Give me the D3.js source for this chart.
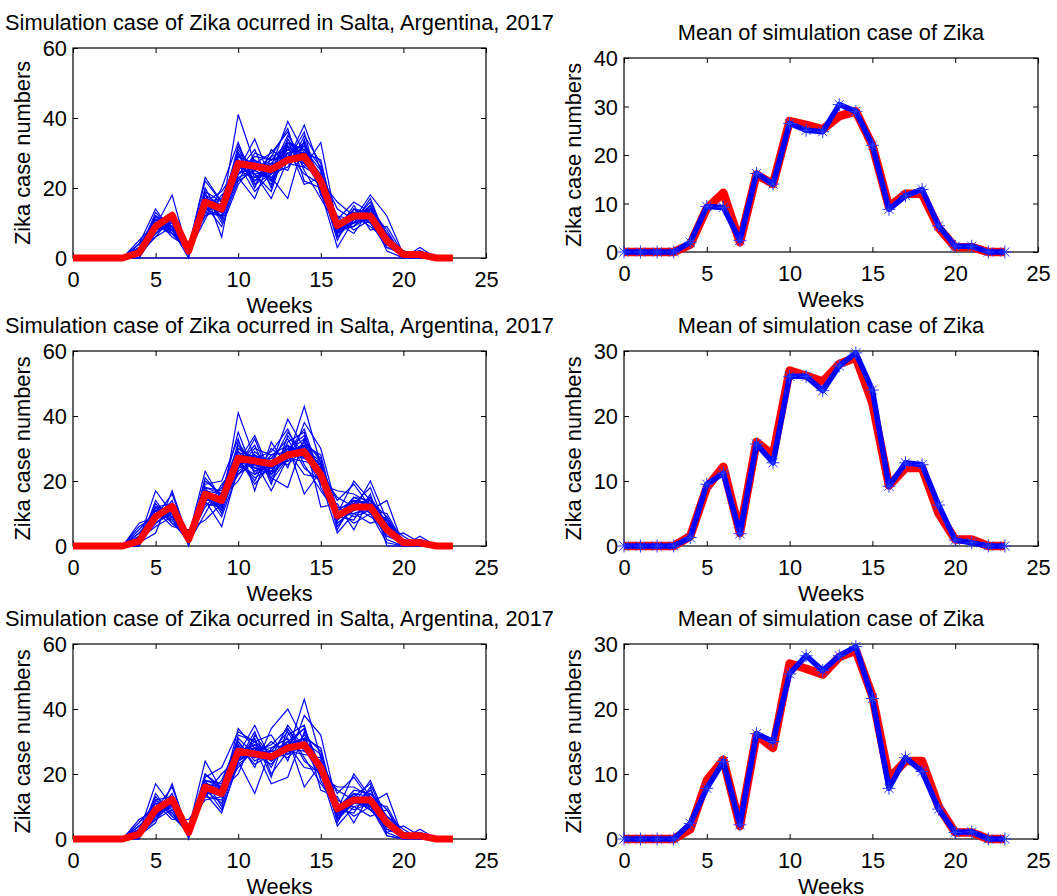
<!DOCTYPE html>
<html><head><meta charset="utf-8">
<script src="https://cdn.jsdelivr.net/npm/d3@7"></script>
<style>
body{margin:0;background:#fff}
svg{display:block}
text{font-family:"Liberation Sans",Arial,Helvetica,sans-serif;fill:#000}
</style>
</head><body>
<svg id="chart" width="1057" height="896"></svg>
<script>
// ---------------- DATA ----------------
const weeks = d3.range(0, 24);

// observed weekly cases (red)
const observed = [0,0,0,0,1.5,9,12.2,2,16,14,27,26.2,25.3,28,29,22,9.3,12,12,5,1,1,0,0];

// simulation runs, row 1
const sim1 = [
[0,0,0,0,2,10,9,1,15,13,41,27,24,31,28,20,9,11,14,6,1,0,0,0],
[0,0,0,0,3,12,8,2,17,15,25,34,22,30,27,24,8,12,13,5,0,1,0,0],
[0,0,0,0,1,8,10,3,23,16,28,22,26,39,30,21,10,13,12,4,1,2,0,0],
[0,0,0,0,4,14,7,2,14,12,31,24,17,28,38,25,7,10,15,7,1,0,0,0],
[0,0,0,0,0,7,11,4,12,18,22,30,28,33,29,22,12,8,11,5,0,1,0,0],
[0,0,0,0,2,9,18,1,19,6,30,20,31,27,26,33,9,14,10,3,2,1,0,0],
[0,0,0,0,1,11,9,3,16,14,24,26,23,17,34,19,3,11,18,12,1,0,0,0],
[0,0,0,0,3,6,12,2,11,20,33,21,27,32,21,23,8,9,12,6,0,3,0,0],
[0,0,0,0,2,13,8,0,18,15,26,28,25,35,28,20,11,16,13,4,1,1,0,0],
[0,0,0,0,1,9,7,3,15,13,23,17,29,31,32,26,6,12,9,5,1,0,0,0],
[0,0,0,0,5,10,10,2,20,11,29,25,22,28,36,18,10,7,14,8,0,2,0,0],
[0,0,0,0,2,8,9,1,13,17,25,31,20,34,27,24,14,11,15,3,1,1,0,0],
[0,0,0,0,0,12,8,2,17,14,32,23,26,29,30,28,7,13,11,6,2,0,0,0],
[0,0,0,0,3,7,11,4,15,9,21,27,30,36,25,17,9,10,17,5,1,1,0,0],
[0,0,0,0,1,11,6,3,22,16,27,19,24,26,33,22,16,12,12,2,0,2,0,0],
[0,0,0,0,2,10,13,2,14,12,24,29,28,30,24,21,5,14,13,7,1,0,0,0],
[0,0,0,0,1,6,9,1,16,19,26,24,19,33,31,19,8,15,8,9,1,1,0,0],
[0,0,0,0,4,9,8,3,12,14,30,26,27,25,35,27,10,9,14,4,0,0,0,0],
[0,0,0,0,2,12,7,2,18,10,22,25,29,37,22,20,6,11,16,6,2,1,0,0],
[0,0,0,0,1,8,10,1,15,13,27,22,25,32,28,23,8,13,11,5,1,0,0,0],
[0,0,0,0,2,11,12,2,16,12,28,25,23,29,27,22,9,10,12,5,1,1,0,0],
[0,0,0,0,3,9,10,1,14,15,25,23,26,31,30,24,7,12,13,6,0,0,0,0],
[0,0,0,0,1,10,8,2,17,14,27,26,24,28,32,21,10,11,10,4,1,1,0,0],
[0,0,0,0,2,8,11,3,15,13,24,28,22,33,26,23,8,13,14,7,1,0,0,0],
[0,0,0,0,0,12,9,1,19,16,30,22,27,27,29,20,11,10,11,5,2,1,0,0],
[0,0,0,0,4,10,7,2,13,12,26,24,25,30,31,25,9,12,12,6,0,1,0,0],
[0,0,0,0,1,9,12,3,16,17,29,27,21,32,28,22,8,9,15,4,1,0,0,0],
[0,0,0,0,2,7,10,2,18,11,23,25,28,29,33,18,12,11,13,5,1,2,0,0],
[0,0,0,0,3,11,9,1,14,14,28,21,24,34,27,24,7,14,12,6,0,1,0,0],
[0,0,0,0,0,0,0,0,0,0,0,0,0,0,0,0,0,0,0,0,0,0,0,0]
];

// simulation runs, row 2
const sim2 = [
[0,0,0,0,2,17,10,1,15,12,41,27,24,30,29,24,9,12,13,6,1,0,0,0],
[0,0,0,0,7,9,12,3,23,14,26,34,22,28,27,26,8,13,12,5,0,1,0,0],
[0,0,0,0,1,4,17,2,17,16,35,22,25,39,30,22,10,20,14,4,1,2,0,0],
[0,0,0,0,3,11,6,5,8,13,30,26,17,27,43,25,7,11,20,8,1,0,0,0],
[0,0,0,0,0,10,11,2,14,6,24,30,28,31,16,23,12,9,11,14,0,1,0,0],
[0,0,0,0,2,8,14,0,19,20,33,17,32,24,38,30,11,14,10,3,4,1,0,0],
[0,0,0,0,1,12,9,3,16,14,22,28,21,18,33,12,13,5,15,7,2,0,0,0],
[0,0,0,0,4,7,11,2,12,18,28,24,27,33,24,20,4,10,7,9,0,3,0,0],
[0,0,0,0,2,13,8,1,21,15,20,29,25,35,28,19,17,16,13,4,1,1,0,0],
[0,0,0,0,1,9,13,4,15,11,27,20,30,26,32,27,6,12,9,6,1,0,0,0],
[0,0,0,0,5,11,10,2,18,17,31,25,23,29,36,21,9,8,16,0,0,2,0,0],
[0,0,0,0,2,6,9,1,10,19,25,31,19,34,27,24,14,19,12,3,1,1,0,0],
[0,0,0,0,0,14,7,3,17,14,29,23,26,28,31,28,8,13,18,5,2,0,0,0],
[0,0,0,0,3,8,12,2,16,9,23,27,29,36,25,17,10,10,11,10,1,1,0,0],
[0,0,0,0,1,10,8,3,20,16,26,21,24,30,34,22,15,12,12,2,0,2,0,0],
[0,0,0,0,2,12,13,2,13,12,24,33,20,27,26,25,5,14,13,7,3,0,0,0],
[0,0,0,0,1,7,10,1,16,13,32,24,22,32,35,18,9,15,14,9,1,1,0,0],
[0,0,0,0,6,9,16,2,14,14,28,26,27,25,30,26,11,7,10,1,0,0,0,0],
[0,0,0,0,2,12,7,2,18,10,25,22,28,29,22,21,7,11,15,6,2,1,0,0],
[0,0,0,0,1,9,11,1,15,13,27,19,25,30,28,23,9,13,11,8,1,0,0,0],
[0,0,0,0,2,10,12,2,16,13,29,26,24,28,30,23,10,11,12,6,1,1,0,0],
[0,0,0,0,3,9,10,1,15,15,26,24,23,31,28,25,8,13,14,5,0,0,0,0],
[0,0,0,0,1,11,9,3,17,12,27,27,22,27,32,22,9,12,11,7,1,1,0,0],
[0,0,0,0,2,8,12,2,14,14,25,28,25,30,27,24,11,14,13,6,2,0,0,0],
[0,0,0,0,0,12,11,1,18,16,28,23,26,26,31,21,10,10,12,5,1,1,0,0],
[0,0,0,0,4,10,10,2,13,12,24,25,24,29,33,26,9,15,12,8,0,1,0,0],
[0,0,0,0,1,9,13,3,16,11,30,27,21,28,29,24,8,12,14,6,1,0,0,0],
[0,0,0,0,2,7,11,2,17,13,26,25,23,29,31,23,10,13,12,7,1,2,0,0],
[0,0,0,0,3,11,12,1,15,14,22,26,24,27,30,25,9,14,13,6,0,1,0,0],
[0,0,0,0,1,10,11,2,16,12,27,28,25,28,29,24,10,12,12,5,1,0,0,0]
];

// simulation runs, row 3
const sim3 = [
[0,0,0,0,2,17,10,2,16,14,34,28,26,30,29,22,8,12,11,5,1,0,0,0],
[0,0,0,0,4,9,12,3,24,15,26,35,24,28,27,24,7,13,10,4,0,1,0,0],
[0,0,0,0,1,5,17,1,18,16,30,22,34,40,30,21,9,20,13,3,1,2,0,0],
[0,0,0,0,3,11,6,6,12,13,28,27,25,27,43,25,6,11,18,6,1,0,0,0],
[0,0,0,0,0,10,11,2,14,8,24,14,28,31,16,23,12,9,11,14,0,1,0,0],
[0,0,0,0,2,8,14,0,19,22,33,30,32,24,38,32,10,14,10,2,4,1,0,0],
[0,0,0,0,1,12,9,3,16,14,22,28,17,19,33,15,13,5,14,7,2,0,0,0],
[0,0,0,0,4,7,11,2,13,18,30,24,27,33,24,20,4,10,7,9,0,3,0,0],
[0,0,0,0,2,13,8,1,20,15,20,32,25,35,28,19,16,16,13,4,1,1,0,0],
[0,0,0,0,1,9,13,4,15,11,27,25,30,26,32,27,6,12,9,6,1,0,0,0],
[0,0,0,0,5,11,10,2,18,17,31,26,23,29,34,21,9,8,16,1,0,2,0,0],
[0,0,0,0,2,6,9,1,14,20,25,31,19,34,27,24,14,19,12,3,1,1,0,0],
[0,0,0,0,0,14,7,3,17,14,29,23,26,28,31,28,8,13,17,5,2,0,0,0],
[0,0,0,0,3,8,12,2,16,9,23,27,29,34,25,17,10,10,11,10,1,1,0,0],
[0,0,0,0,1,10,8,3,20,16,26,29,24,30,34,22,15,12,12,2,0,2,0,0],
[0,0,0,0,2,12,13,2,13,12,24,33,20,27,26,25,5,14,13,7,3,0,0,0],
[0,0,0,0,1,7,10,1,16,13,32,30,22,32,35,18,9,15,14,9,1,1,0,0],
[0,0,0,0,6,9,16,2,14,14,28,26,27,25,30,26,11,7,10,1,0,0,0,0],
[0,0,0,0,2,12,7,2,18,10,25,28,28,29,22,21,7,11,15,6,2,1,0,0],
[0,0,0,0,1,9,11,1,15,13,27,25,25,30,28,23,9,13,11,5,1,0,0,0],
[0,0,0,0,3,8,12,2,16,15,25,28,26,28,30,21,8,12,10,5,1,1,0,0],
[0,0,0,0,2,7,11,3,17,16,26,29,25,29,28,22,7,13,11,4,0,0,0,0],
[0,0,0,0,2,9,13,2,15,14,24,27,27,27,31,20,8,12,9,5,1,1,0,0],
[0,0,0,0,1,6,12,3,18,17,25,30,26,28,29,21,9,14,10,6,1,0,0,0],
[0,0,0,0,3,8,11,1,16,15,27,28,25,26,30,23,7,11,11,4,2,1,0,0],
[0,0,0,0,4,7,12,2,14,16,24,27,24,29,31,22,8,13,10,5,0,1,0,0],
[0,0,0,0,2,9,13,3,17,15,26,29,27,28,29,20,7,12,9,4,1,0,0,0],
[0,0,0,0,3,6,11,2,16,14,25,26,26,27,30,22,8,11,10,5,1,2,0,0],
[0,0,0,0,2,8,12,1,15,16,24,28,25,28,28,21,6,13,9,4,0,1,0,0],
[0,0,0,0,1,7,13,2,17,15,26,27,26,29,31,22,7,12,10,5,1,0,0,0]
];

// mean of simulations (blue with asterisks)
const mean1 = [0,0,0,0,2,9.4,9.2,2.4,16.2,14,26.5,25.1,24.8,30.4,29,22,8.8,11.6,12.9,5.4,1.2,1.2,0,0];
const mean2 = [0,0,0,0,1.3,9.5,11.2,1.9,15.7,12.8,26.1,26.1,23.9,27.7,29.7,24,9.2,12.8,12.5,6.3,0.9,0.5,0,0];
const mean3 = [0,0,0,0,2.4,7.8,11.9,2.2,16.2,15,25.4,28.2,25.9,28.2,29.6,21.6,7.8,12.5,10.4,4.6,1,1.1,0,0];

// ticks and labels
const xTicks = [0, 5, 10, 15, 20, 25];
const yTicksSim = [0, 20, 40, 60];
const yTicksMeanTop = [0, 10, 20, 30, 40];
const yTicksMean = [0, 10, 20, 30];
const titleSim = "Simulation case of Zika ocurred in Salta, Argentina, 2017";
const titleMean = "Mean of simulation case of Zika";
const xLabel = "Weeks";
const yLabel = "Zika case numbers";

// ---------------- LAYOUT ----------------
const FS = 21.8;
const panels = [
  {kind:"sim",  sims:sim1, title:titleSim,  yMax:60, yTicks:yTicksSim,     box:{l:73,  r:486,  t:48,  b:258}},
  {kind:"mean", mean:mean1, title:titleMean, yMax:40, yTicks:yTicksMeanTop, box:{l:624, r:1038, t:58,  b:252}},
  {kind:"sim",  sims:sim2, title:titleSim,  yMax:60, yTicks:yTicksSim,     box:{l:73,  r:486,  t:351, b:546}},
  {kind:"mean", mean:mean2, title:titleMean, yMax:30, yTicks:yTicksMean,    box:{l:624, r:1038, t:351, b:546}},
  {kind:"sim",  sims:sim3, title:titleSim,  yMax:60, yTicks:yTicksSim,     box:{l:73,  r:486,  t:644, b:839}},
  {kind:"mean", mean:mean3, title:titleMean, yMax:30, yTicks:yTicksMean,    box:{l:624, r:1038, t:644, b:839}}
];

const svg = d3.select("#chart");
svg.append("rect").attr("width",1057).attr("height",896).attr("fill","#fff");

function asterisk(r){
  const d = r*0.7071;
  return `M${-r},0L${r},0M0,${-r}L0,${r}M${-d},${-d}L${d},${d}M${-d},${d}L${d},${-d}`;
}

panels.forEach(p => {
  const b = p.box;
  const x = d3.scaleLinear().domain([0,25]).range([b.l, b.r]);
  const y = d3.scaleLinear().domain([0,p.yMax]).range([b.b, b.t]);
  const g = svg.append("g");
  const line = d3.line().x((d,i)=>x(weeks[i])).y(d=>y(d));

  // axes first (data is drawn over them, as in the original)
  g.append("rect").attr("x",b.l).attr("y",b.t).attr("width",b.r-b.l).attr("height",b.b-b.t)
    .attr("fill","none").attr("stroke","#000").attr("stroke-width",1.2);
  const axB = g.append("g").attr("transform",`translate(0,${b.b})`)
    .call(d3.axisBottom(x).tickValues(xTicks).tickSize(-5).tickSizeOuter(0).tickFormat(d3.format("d")));
  axB.selectAll("text").attr("y",29).attr("dy",0).style("font-size",FS+"px");
  const axT = g.append("g").attr("transform",`translate(0,${b.t})`)
    .call(d3.axisTop(x).tickValues(xTicks).tickSize(-5).tickSizeOuter(0).tickFormat(""));
  const axL = g.append("g").attr("transform",`translate(${b.l},0)`)
    .call(d3.axisLeft(y).tickValues(p.yTicks).tickSize(-5).tickSizeOuter(0).tickFormat(d3.format("d")));
  axL.selectAll("text").attr("x",-6).attr("dy","0.36em").style("font-size",FS+"px");
  const axR = g.append("g").attr("transform",`translate(${b.r},0)`)
    .call(d3.axisRight(y).tickValues(p.yTicks).tickSize(-5).tickSizeOuter(0).tickFormat(""));
  [axB,axT,axL,axR].forEach(a=>{
    a.select(".domain").remove();
    a.selectAll("line").attr("stroke","#000").attr("stroke-width",1);
    a.selectAll("text").attr("fill","#000").style("font-family",'"Liberation Sans",Arial,sans-serif');
  });

  if (p.kind === "sim") {
    g.append("g").selectAll("path").data(p.sims).join("path")
      .attr("d", line).attr("fill","none").attr("stroke","#0000ff")
      .attr("stroke-width",1.2).attr("stroke-linejoin","miter");
    g.append("path").datum(observed).attr("d", line).attr("fill","none")
      .attr("stroke","#ff0000").attr("stroke-width",7).attr("stroke-linejoin","round");
  } else {
    g.append("path").datum(observed).attr("d", line).attr("fill","none")
      .attr("stroke","#ff0000").attr("stroke-width",8.5).attr("stroke-linejoin","round");
    g.append("path").datum(p.mean).attr("d", line).attr("fill","none")
      .attr("stroke","#0000ff").attr("stroke-width",5.5).attr("stroke-linejoin","round");
    g.append("g").selectAll("path").data(p.mean).join("path")
      .attr("transform",(d,i)=>`translate(${x(weeks[i])},${y(d)})`)
      .attr("d", asterisk(6.5)).attr("fill","none").attr("stroke","#2a3cff").attr("stroke-width",1);
  }

  const cx = (b.l+b.r)/2;
  g.append("text").attr("x",cx).attr("y",b.t-18).attr("text-anchor","middle")
    .style("font-size",FS+"px").text(p.title);
  g.append("text").attr("x",cx).attr("y",b.b+55).attr("text-anchor","middle")
    .style("font-size",FS+"px").text(xLabel);
  g.append("text").attr("transform",`translate(${b.l-43},${(b.t+b.b)/2}) rotate(-90)`)
    .attr("text-anchor","middle").style("font-size",FS+"px").text(yLabel);
});
</script>
</body></html>
